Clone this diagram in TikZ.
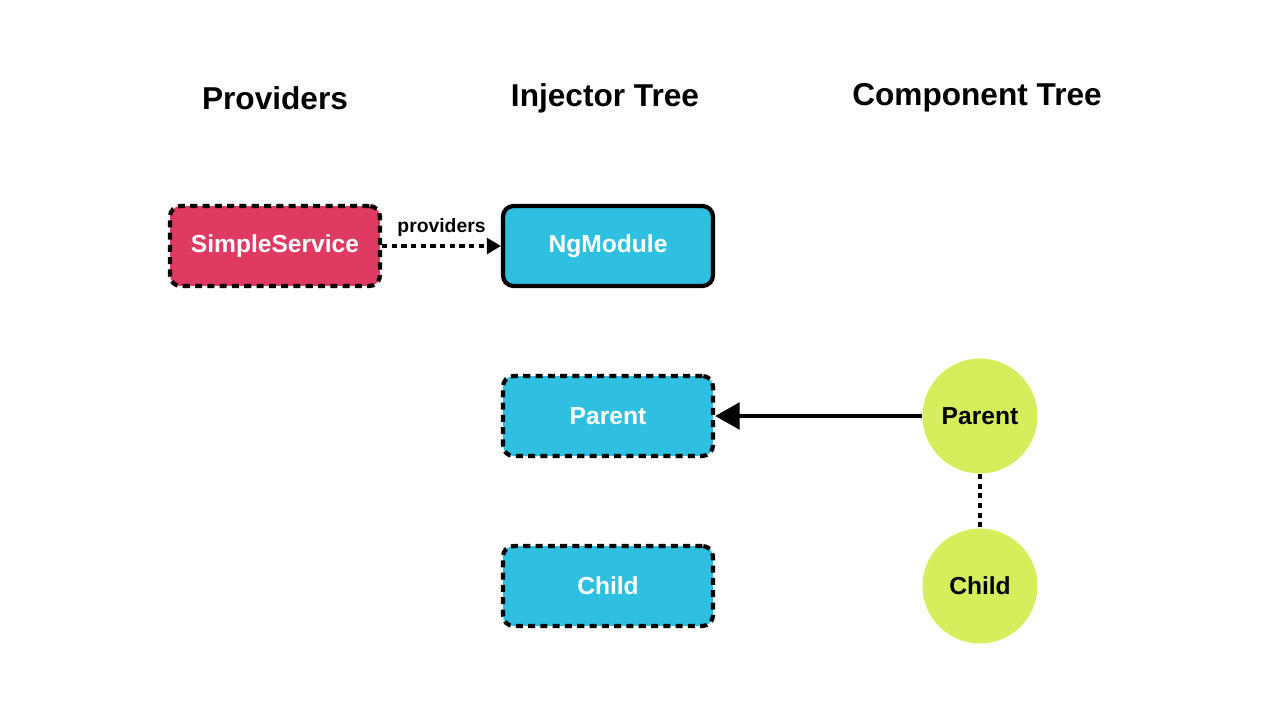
\documentclass[tikz,border=0pt]{standalone}
\usepackage{fontspec}
\setmainfont{Liberation Sans}
\usetikzlibrary{arrows.meta}
\definecolor{svcred}{HTML}{DE3A62}
\definecolor{injblue}{HTML}{2FBFE0}
\definecolor{cmpgreen}{HTML}{D4EE5C}

\begin{document}
\begin{tikzpicture}
  [x=0.02cm,y=-0.02cm,
   title/.style={font=\bfseries\fontsize{18}{20}\selectfont},
   box/.style={rectangle,rounded corners=6pt,draw=black,line width=2.4pt,
               minimum width=4.2cm,minimum height=1.6cm,text=white,
               font=\bfseries\fontsize{14}{16}\selectfont},
   dashbox/.style={box,dash pattern=on 4pt off 3pt},
   comp/.style={circle,draw=none,fill=cmpgreen,minimum size=2.3cm,
                font=\bfseries\fontsize{14}{16}\selectfont}]
  \useasboundingbox (0,0) rectangle (1280,720);
  \node[title] (provtitle) at (275,98) {Providers};
  \node[title] (injtitle) at (605,98) {Injector Tree};
  \node[title] (comptitle) at (977,98) {Component Tree};
  \node[dashbox,fill=svcred] (service) at (275,246) {SimpleService};
  \node[box,fill=injblue] (ngmodule) at (608,246) {NgModule};
  \node[dashbox,fill=injblue] (injparent) at (608,416) {Parent};
  \node[dashbox,fill=injblue] (injchild) at (608,586) {Child};
  \node[comp] (cparent) at (980,416) {Parent};
  \node[comp] (cchild) at (980,586) {Child};
  \draw[line width=1.8pt,dash pattern=on 3pt off 2.5pt,-{Triangle[length=8pt,width=9pt]}]
    (service) -- node[above=1pt,font=\bfseries\fontsize{11}{13}\selectfont] {providers} (ngmodule);
  \draw[line width=2.6pt,-{Triangle[length=14pt,width=15pt]}] (cparent) -- (injparent);
  \draw[line width=1.8pt,dash pattern=on 3pt off 2.5pt] (cparent) -- (cchild);
\end{tikzpicture}
\end{document}
